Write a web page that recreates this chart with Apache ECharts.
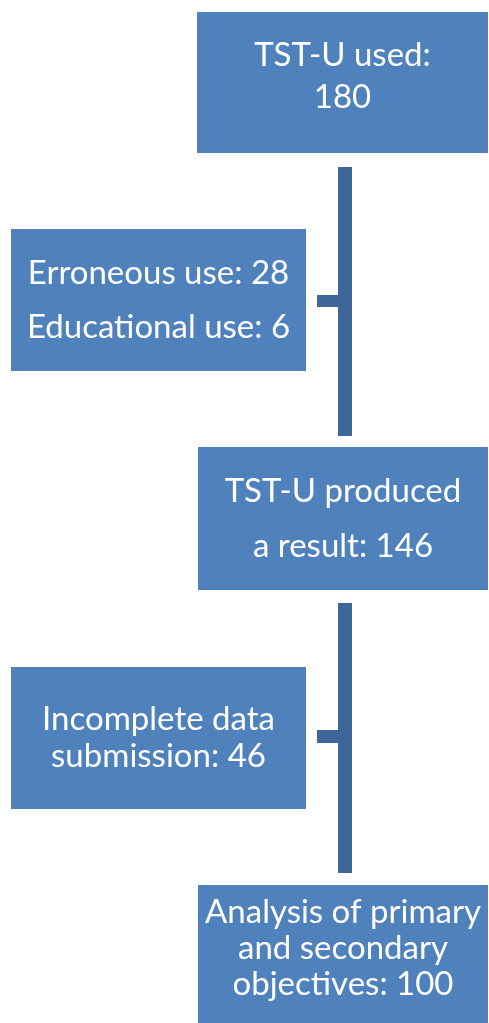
<!DOCTYPE html>
<html><head><meta charset="utf-8">
<script src="https://cdn.jsdelivr.net/npm/echarts@6/dist/echarts.min.js"></script>
<style>html,body{margin:0;padding:0;background:#fff}#c{width:489px;height:1023px}</style>
</head><body><div id="c"></div>
<script>
// Flow steps (text + counts)
const stepLabels = ["TST-U used:", "Erroneous use:", "Educational use:", "TST-U produced\na result:", "Incomplete data\nsubmission:", "Analysis of primary\nand secondary\nobjectives:"];
const stepValues = [180, 28, 6, 146, 46, 100];

// Layout (page pixel units on a hidden 0..489 x 0..1023 axis)
const boxes = [
  {x0:197, y0:12,  x1:488, y1:153, text: stepLabels[0] + "\n" + stepValues[0], lh:42, dy:-6},
  {x0:11,  y0:229, x1:306, y1:371, text: stepLabels[1] + " " + stepValues[1] + "\n" + stepLabels[2] + " " + stepValues[2], lh:54, dy:0},
  {x0:198, y0:447, x1:488, y1:590, text: stepLabels[3] + " " + stepValues[3], lh:55, dy:0},
  {x0:11,  y0:667, x1:306, y1:809, text: stepLabels[4] + " " + stepValues[4], lh:37, dy:0},
  {x0:198, y0:885, x1:488, y1:1023, text: stepLabels[5] + " " + stepValues[5], lh:36, dy:-6}
];
const connectors = [
  {x0:338, x1:352, y0:167, y1:436, sy0:295, sy1:307, sx0:317},
  {x0:338, x1:352, y0:603, y1:873, sy0:730, sy1:743, sx0:317}
];

const chart = echarts.init(document.getElementById('c'), null, {renderer:'canvas'});
chart.setOption({
  animation:false,
  grid:{left:0,right:0,top:0,bottom:0},
  xAxis:{type:'value',min:0,max:489,show:false},
  yAxis:{type:'value',min:0,max:1023,inverse:true,show:false},
  series:[
    {
      type:'custom',
      data: connectors.map(c=>[c.x0,c.y0,c.x1,c.y1,c.sx0,c.sy0,c.sy1]),
      renderItem:function(params, api){
        const a = api.coord([api.value(0), api.value(1)]);
        const b = api.coord([api.value(2), api.value(3)]);
        const s0 = api.coord([api.value(4), api.value(5)]);
        const s1 = api.coord([api.value(0), api.value(6)]);
        return {type:'group', children:[
          {type:'rect', shape:{x:a[0], y:a[1], width:b[0]-a[0], height:b[1]-a[1]}, style:{fill:'#3F6699'}},
          {type:'rect', shape:{x:s0[0], y:s0[1], width:s1[0]-s0[0]+2, height:s1[1]-s0[1]}, style:{fill:'#3F6699'}}
        ]};
      }
    },
    {
      type:'custom',
      data: boxes.map((b,i)=>[b.x0,b.y0,b.x1,b.y1,i]),
      renderItem:function(params, api){
        const p0 = api.coord([api.value(0), api.value(1)]);
        const p1 = api.coord([api.value(2), api.value(3)]);
        const bx = boxes[api.value(4)];
        return {type:'group', children:[
          {type:'rect', shape:{x:p0[0], y:p0[1], width:p1[0]-p0[0], height:p1[1]-p0[1]}, style:{fill:'#4F81BD'}},
          {type:'text', x:(p0[0]+p1[0])/2, y:(p0[1]+p1[1])/2 + bx.dy,
           style:{text:bx.text, fill:'#fff', font:'normal 33px Lato', align:'center', verticalAlign:'middle', lineHeight:bx.lh}}
        ]};
      }
    }
  ]
});
</script></body></html>
